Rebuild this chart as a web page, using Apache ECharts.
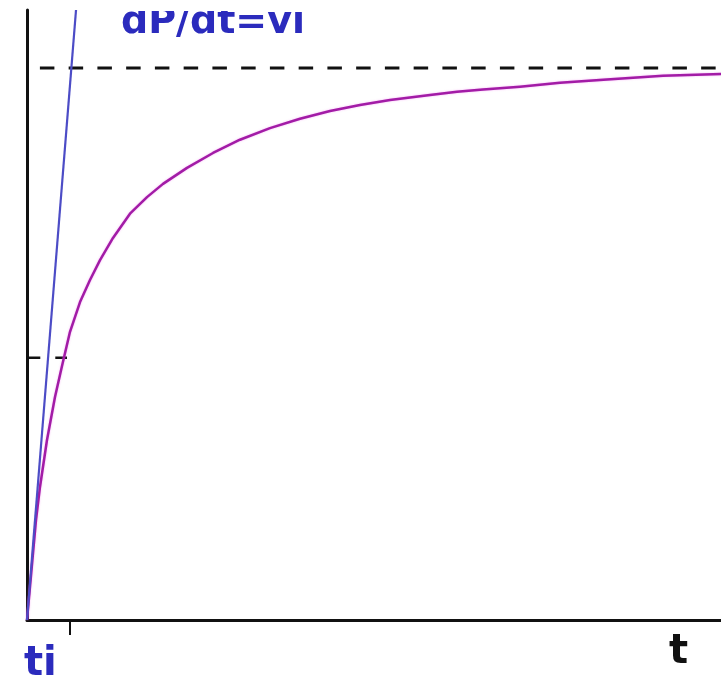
<!DOCTYPE html>
<html>
<head>
<meta charset="utf-8">
<style>
  html, body { margin: 0; padding: 0; background: #ffffff; }
  #chart { width: 721px; height: 679px; }
</style>
<script src="https://cdn.jsdelivr.net/npm/echarts@6/dist/echarts.min.js"></script>
</head>
<body>
<div id="chart"></div>
<script>
// Time axis in units of ti, position axis in units of the plateau value.
const curveT = [0, 0.105, 0.209, 0.302, 0.465, 0.651, 0.814, 1.0, 1.233, 1.465, 1.698, 2.0, 2.395, 2.791, 3.163,
  3.721, 4.326, 4.953, 5.651, 6.349, 7.047, 7.744, 8.442, 9.372, 10.0, 10.605, 11.465, 12.395, 13.488, 14.791, 16.14];
const curveP = [0, 0.091, 0.181, 0.241, 0.326, 0.404, 0.460, 0.522, 0.576, 0.616, 0.652, 0.692, 0.736, 0.766, 0.790,
  0.819, 0.846, 0.870, 0.891, 0.908, 0.922, 0.933, 0.942, 0.951, 0.957, 0.961, 0.966, 0.973, 0.979, 0.986, 0.989];

// Initial slope dP/dt = vi, drawn from the origin
const tangentT = [0, 1.14];
const tangentP = [0, 1.105];

// Plateau level and the level reached at ti
const plateau = 1;
const plateauStart = 0.30;
const levelAtTi = 0.475;
const levelEnd = 0.93;

const tMax = 16.14;
const pMax = 1.105;
const tiTick = [1];

const zip = (a, b) => a.map((v, i) => [v, b[i]]);

const chart = echarts.init(document.getElementById('chart'), null, { renderer: 'canvas' });

chart.setOption({
  animation: false,
  backgroundColor: '#ffffff',
  grid: { left: 27, right: 0, top: 10, bottom: 59 },
  xAxis: {
    type: 'value', min: 0, max: tMax,
    axisLine: { show: true, onZero: false, lineStyle: { color: '#111111', width: 3 } },
    axisTick: { show: true, customValues: tiTick, length: 15, inside: false,
      lineStyle: { color: '#111111', width: 2 } },
    axisLabel: { show: false },
    splitLine: { show: false }
  },
  yAxis: {
    type: 'value', min: 0, max: pMax,
    axisLine: { show: true, onZero: false, lineStyle: { color: '#111111', width: 3 } },
    axisTick: { show: false },
    axisLabel: { show: false },
    splitLine: { show: false }
  },
  series: [
    {
      name: 'plateau', type: 'line', symbol: 'none', silent: true, z: 1,
      data: [[plateauStart, plateau], [tMax, plateau]],
      lineStyle: { color: '#111111', width: 3, type: [14.5, 14.25] }
    },
    {
      name: 'level at ti', type: 'line', symbol: 'none', silent: true, z: 1,
      data: [[0.03, levelAtTi], [levelEnd, levelAtTi]],
      lineStyle: { color: '#111111', width: 2.5, type: [12, 15] }
    },
    {
      name: 'tangent', type: 'line', symbol: 'none', silent: true, z: 3,
      data: zip(tangentT, tangentP),
      lineStyle: { color: '#4c4cc6', width: 2.2 }
    },
    {
      name: 'P(t)', type: 'line', symbol: 'none', silent: true, z: 2,
      smooth: false,
      data: zip(curveT, curveP),
      lineStyle: { color: '#a21ca6', width: 2.5, join: 'round',
        shadowColor: 'rgba(240,90,240,0.5)', shadowBlur: 2 }
    }
  ],
  graphic: [
    {
      type: 'text', left: 121, top: 4, z: 10,
      style: { text: 'dP/dt=vi', fill: '#2b2bbd', font: 'bold 38px "DejaVu Sans"' }
    },
    {
      type: 'rect', z: 11, shape: { x: 100, y: 0, width: 260, height: 11 },
      style: { fill: '#ffffff' }
    },
    {
      type: 'text', left: 24, top: 645, z: 10,
      style: { text: 'ti', fill: '#2b2bbd', font: 'bold 40px "DejaVu Sans"' }
    },
    {
      type: 'text', left: 669, top: 633, z: 10,
      style: { text: 't', fill: '#111111', font: 'bold 40px "DejaVu Sans"' }
    }
  ]
});
</script>
</body>
</html>
